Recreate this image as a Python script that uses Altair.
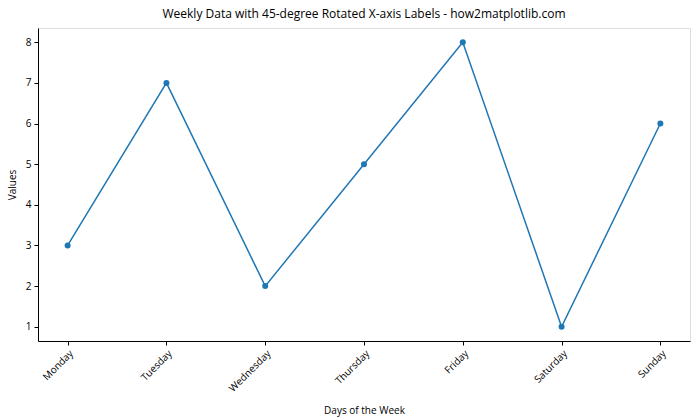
import altair as alt
import pandas as pd

days = ["Monday", "Tuesday", "Wednesday", "Thursday", "Friday", "Saturday", "Sunday"]
values = [3, 7, 2, 5, 8, 1, 6]

df = pd.DataFrame({"day": days, "value": values})

FONT = "Open Sans"
color = "#1f77b4"

x = alt.X("day:N", sort=days, scale=alt.Scale(type="point", padding=0.3),
          axis=alt.Axis(title="Days of the Week", labelAngle=-45, labelAlign="right",
                        labelBaseline="top", labelFontSize=10, titleFontSize=10,
                        titleFontWeight="normal", titlePadding=12, tickSize=4,
                        labelPadding=3, domainColor="black", tickColor="black",
                        labelColor="black", titleColor="black", grid=False, labelFont=FONT, titleFont=FONT))
y = alt.Y("value:Q", scale=alt.Scale(domain=[0.65, 8.35], nice=False, zero=False),
          axis=alt.Axis(title="Values", values=[1, 2, 3, 4, 5, 6, 7, 8], labelFontSize=10,
                        titleFontSize=10, titleFontWeight="normal", tickSize=4, labelPadding=3,
                        titlePadding=8, domainColor="black", tickColor="black", labelColor="black",
                        titleColor="black", grid=False, labelFont=FONT, titleFont=FONT))

base = alt.Chart(df).encode(x=x, y=y)
line = base.mark_line(color=color, strokeWidth=1.5)
pts = base.mark_circle(color=color, size=36, opacity=1)

chart = (line + pts).properties(
    width=652, height=313,
    title=alt.TitleParams("Weekly Data with 45-degree Rotated X-axis Labels - how2matplotlib.com",
                          fontSize=12, fontWeight="normal", font=FONT, color="black", offset=7),
    autosize=alt.AutoSizeParams(type="none"),
    padding={"left": 38, "top": 28, "right": 10, "bottom": 79},
).configure_view(stroke="black", strokeWidth=1).configure(background="white")

chart.save("out.html", embed_options={"renderer": "svg", "actions": False})
